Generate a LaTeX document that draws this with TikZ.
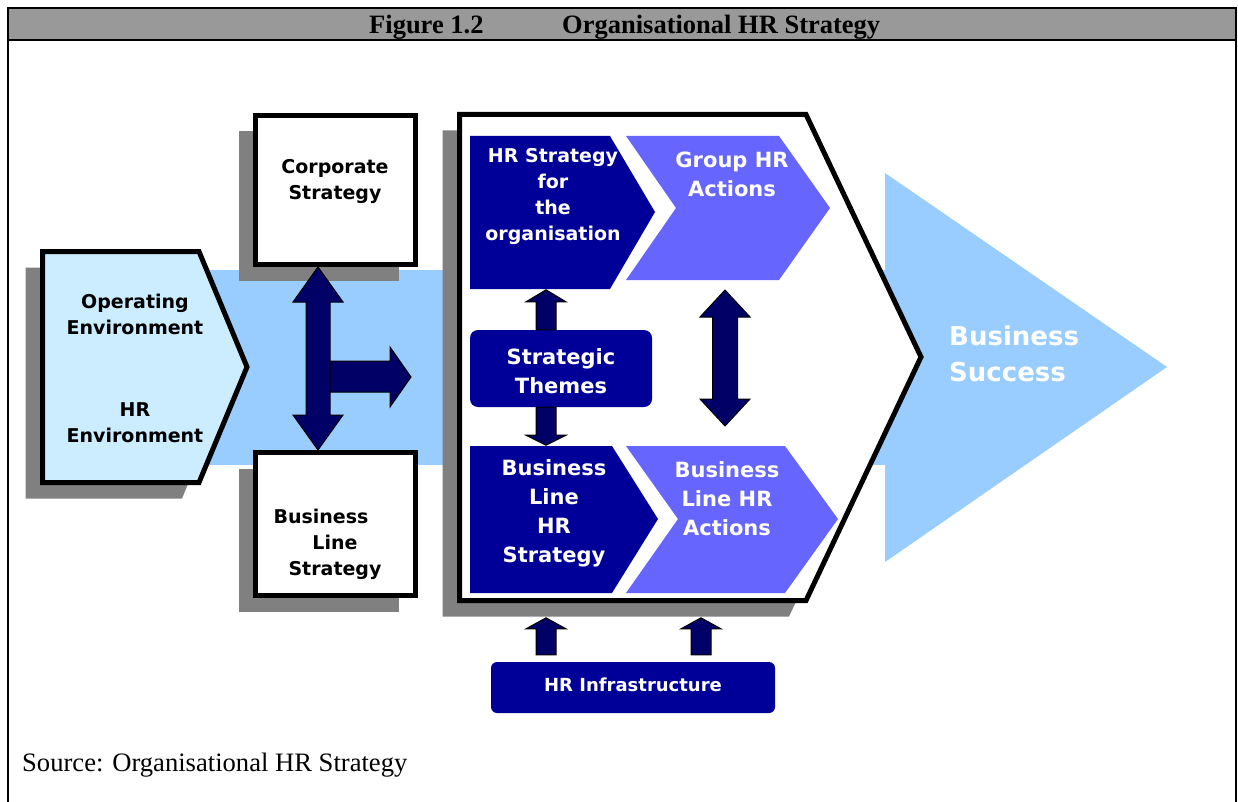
\documentclass[tikz,border=0pt]{standalone}
\usepackage{fontspec}
\setmainfont{Liberation Serif}
\newfontfamily\boxfont{DejaVu Sans}
\usetikzlibrary{shadows}

\definecolor{hrnavy}{HTML}{000099}
\definecolor{arrownavy}{HTML}{000066}
\definecolor{hrviolet}{HTML}{6666FF}
\definecolor{bandblue}{HTML}{99CCFF}
\definecolor{paleblue}{HTML}{CCECFF}
\definecolor{shadowgray}{HTML}{808080}
\definecolor{titlegray}{HTML}{999999}

\begin{document}
\begin{tikzpicture}[x=1pt,y=-1pt]

      \tikzset{greyshadow/.style={drop shadow={shadow xshift=-17pt, shadow yshift=-16pt, fill=shadowgray, opacity=1}},
               stratbox/.style={draw, line width=5pt, fill=white, minimum width=160pt, greyshadow},
               blacktext/.style={font=\boxfont\bfseries\fontsize{19}{26}\selectfont, align=center, inner sep=0pt},
               whitetext/.style={font=\boxfont\bfseries\fontsize{21}{29}\selectfont, align=center, inner sep=0pt, text=white},
               roundbox/.style={fill=hrnavy, rounded corners=8pt, inner sep=0pt},
               blockarrow/.style={draw=black, line width=1pt, fill=arrownavy, line join=miter}}
      \useasboundingbox (0,0) rectangle (1238,802);

%% Frame and title
        \fill[titlegray] (8,8) rectangle (1236,40);
        \draw[line width=2pt] (8,802) -- (8,8) -- (1236,8) -- (1236,802);
        \draw[line width=2pt] (8,40) -- (1236,40);
        \node[font=\bfseries\fontsize{26.5}{30}\selectfont, anchor=base west, inner sep=0pt] (fig) at (369,34) {Figure 1.2};
        \node[font=\bfseries\fontsize{26.5}{30}\selectfont, anchor=base west, inner sep=0pt] (title) at (562,34) {Organisational HR Strategy};
        \node[font=\fontsize{26.6}{30}\selectfont, anchor=base west, inner sep=0pt] (source) at (22,771) {Source: Organisational HR Strategy};

%% Background band and outcome
        \fill[bandblue] (27,270) rectangle (885,465);
        \fill[bandblue] (885,173) -- (1167,367) -- (885,562) -- cycle;

%% Environment
        \draw[line width=5pt, fill=paleblue, line join=miter, greyshadow] (42.5,251.5) -- (199,251.5) -- (247,367) -- (199,482.5) -- (42.5,482.5) -- cycle;
        \node[blacktext] (openv) at (135,314) {Operating\\Environment};
        \node[blacktext] (hrenv) at (135,423) {HR\\Environment};

%% Strategy boxes
        \node[stratbox, minimum height=149pt] (corp) at (335.5,190) {};
        \node[stratbox, minimum height=143pt] (bline) at (335.5,524) {};
        \node[blacktext] (corptext) at (335,182) {Corporate\\Strategy};
        \node[blacktext] (blinetext) at (335,544) {Business\hspace*{28pt}\\Line\\Strategy};

%% HR strategy frame
        \draw[line width=5pt, fill=white, line join=miter, greyshadow] (459.5,114.5) -- (806,114.5) -- (921,357) -- (806,600.5) -- (459.5,600.5) -- cycle;

%% Arrows between strategies
        \path (corp.south) ++(-17.5,0) coordinate (vtop);
        \path (bline.north) ++(-17.5,0) coordinate (vbot);
        \coordinate (rtip) at (411,377);
        \draw[blockarrow] (vtop) -- ++(25,35) -- ++(-13,0) -- ++(0,113) -- ++(13,0) -- (vbot)
              -- ++(-25,-35) -- ++(13,0) -- ++(0,-113) -- ++(-13,0) -- cycle;
        \draw[blockarrow] (330,361) -- (390,361) -- (390,347) -- (rtip) -- (390,407) -- (390,392) -- (330,392) -- cycle;

%% HR strategy and actions
        \fill[hrnavy] (470,136) -- (610,136) -- (655,212) -- (610,289) -- (470,289) -- cycle;
        \fill[hrviolet] (626,136) -- (779,136) -- (830,208) -- (779,280) -- (626,280) -- (676,208) -- cycle;
        \fill[hrnavy] (470,446) -- (612,446) -- (658,519) -- (612,593) -- (470,593) -- cycle;
        \fill[hrviolet] (626,446) -- (785,446) -- (838,519) -- (785,593) -- (626,593) -- (678,519) -- cycle;
        \node[blacktext, text=white] (hrstrat) at (553,196.5) {HR Strategy\\for\\the\\organisation};
        \node[whitetext] (grouphr) at (732,174.5) {Group HR\\Actions};
        \node[whitetext] (blstrat) at (554,513.5) {Business\\Line\\HR\\Strategy};
        \node[whitetext] (blact) at (727,499) {Business\\Line HR\\Actions};

        \node[roundbox, minimum width=182pt, minimum height=77pt] (themes) at (561,368.5) {};
        \node[whitetext] (themestext) at (561,371) {Strategic\\Themes};
        \node[roundbox, minimum width=284pt, minimum height=51pt, rounded corners=6pt] (infra) at (633,687.5) {};
        \node[blacktext, text=white, font=\boxfont\bfseries\fontsize{18}{22}\selectfont] (infratext) at (633,685) {HR Infrastructure};

        \node[font=\boxfont\bfseries\fontsize{26}{36}\selectfont, align=left, anchor=west, inner sep=0pt, text=white] (success) at (949,354) {Business\\Success};

%% Small arrows
        \path (themes.north) ++(-15,0) coordinate (tup);
        \path (themes.south) ++(-15,0) coordinate (tdown);
        \path (infra.north) ++(-87,0) coordinate (iup1);
        \path (infra.north) ++(68,-7) coordinate (iup2);
        \draw[blockarrow] (tup) ++(-10,0) -- ++(0,-28) -- ++(-10,0) -- ++(20,-12) -- ++(20,12) -- ++(-10,0) -- ++(0,28) -- cycle;
        \draw[blockarrow] (tdown) ++(-10,0) -- ++(0,28) -- ++(-10,0) -- ++(20,10) -- ++(20,-10) -- ++(-10,0) -- ++(0,-28) -- cycle;
        \draw[blockarrow] (iup1) ++(-10,-7) -- ++(0,-26) -- ++(-10,0) -- ++(20,-11) -- ++(20,11) -- ++(-10,0) -- ++(0,26) -- cycle;
        \draw[blockarrow] (iup2) ++(-10,0) -- ++(0,-26) -- ++(-10,0) -- ++(20,-11) -- ++(20,11) -- ++(-10,0) -- ++(0,26) -- cycle;
        \draw[blockarrow] (725,290) -- ++(25,27) -- ++(-12.5,0) -- ++(0,82) -- ++(12.5,0) -- ++(-25,27)
              -- ++(-25,-27) -- ++(12.5,0) -- ++(0,-82) -- ++(-12.5,0) -- cycle;

	\end{tikzpicture}
\end{document}
